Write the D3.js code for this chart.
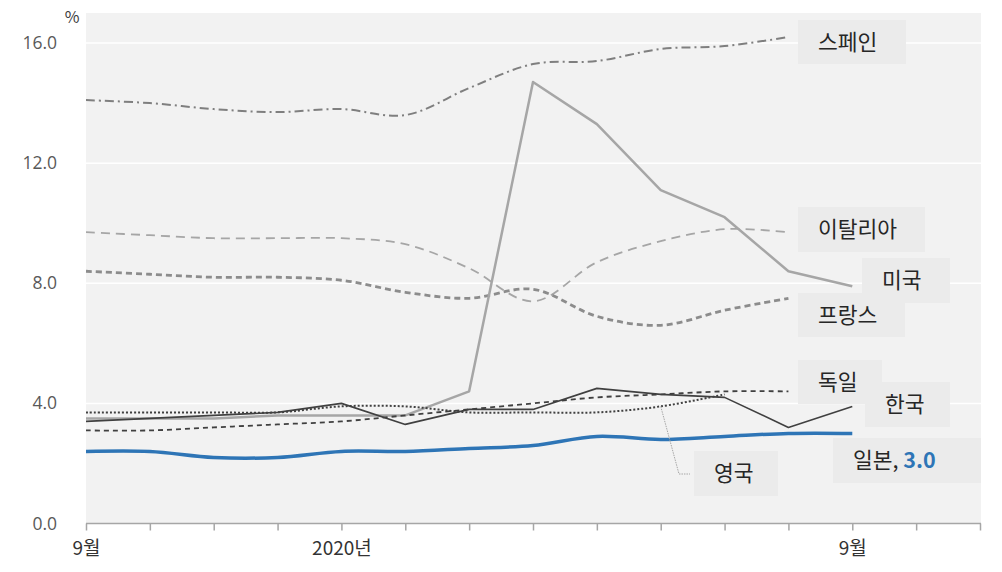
<!DOCTYPE html>
<html>
<head>
<meta charset="utf-8">
<script src="https://cdn.jsdelivr.net/npm/d3@7"></script>
<style>
  html, body { margin: 0; padding: 0; background: #ffffff; }
  svg { display: block; }
  text { font-family: "Noto Sans CJK KR", "Noto Sans", sans-serif; }
</style>
</head>
<body>
<svg id="chart" width="1002" height="572"></svg>
<script>
// Monthly unemployment rate (%), Sep 2019 onward
const months = ["2019-09", "2019-10", "2019-11", "2019-12", "2020-01", "2020-02", "2020-03",
                "2020-04", "2020-05", "2020-06", "2020-07", "2020-08", "2020-09", "2020-10", "2020-11"];
const monthLabels = { "2019-09": "9월", "2020-01": "2020년", "2020-09": "9월" };
const yTicks = [0, 4, 8, 12, 16];

const spain   = [14.1, 14.0, 13.8, 13.7, 13.8, 13.6, 14.5, 15.3, 15.4, 15.8, 15.9, 16.2];
const italy   = [9.7, 9.6, 9.5, 9.5, 9.5, 9.3, 8.5, 7.4, 8.7, 9.4, 9.8, 9.7];
const france  = [8.4, 8.3, 8.2, 8.2, 8.1, 7.7, 7.5, 7.8, 6.9, 6.6, 7.1, 7.5];
const usa     = [3.5, 3.5, 3.5, 3.6, 3.6, 3.6, 4.4, 14.7, 13.3, 11.1, 10.2, 8.4, 7.9];
const germany = [3.1, 3.1, 3.2, 3.3, 3.4, 3.6, 3.8, 4.0, 4.2, 4.3, 4.4, 4.4];
const uk      = [3.7, 3.7, 3.7, 3.7, 3.9, 3.9, 3.7, 3.7, 3.7, 3.9, 4.3];
const korea   = [3.4, 3.5, 3.6, 3.7, 4.0, 3.3, 3.8, 3.8, 4.5, 4.3, 4.2, 3.2, 3.9];
const japan   = [2.4, 2.4, 2.2, 2.2, 2.4, 2.4, 2.5, 2.6, 2.9, 2.8, 2.9, 3.0, 3.0];

const names = { spain: "스페인", italy: "이탈리아", usa: "미국", france: "프랑스",
                germany: "독일", korea: "한국", japan: "일본", uk: "영국" };

const svg = d3.select("#chart");
const plot = { left: 86, right: 981, top: 13, bottom: 523.5 };

const x = d3.scalePoint().domain(months).range([86, 980]);
const y = d3.scaleLinear().domain([0, 17]).range([plot.bottom, plot.top]);

// panel
svg.append("rect")
  .attr("x", plot.left).attr("y", plot.top)
  .attr("width", plot.right - plot.left).attr("height", plot.bottom - plot.top)
  .attr("fill", "#f2f2f2");

// horizontal gridlines
svg.append("g").selectAll("line")
  .data(yTicks.filter(d => d > 0))
  .join("line")
  .attr("x1", plot.left).attr("x2", plot.right)
  .attr("y1", d => y(d)).attr("y2", d => y(d))
  .attr("stroke", "#ffffff").attr("stroke-width", 1.5);

// y axis labels
const yAxis = d3.axisLeft(y).tickValues(yTicks).tickFormat(d3.format(".1f")).tickSize(0).tickPadding(29);
const yg = svg.append("g").attr("transform", `translate(${plot.left},0)`).call(yAxis);
yg.select(".domain").remove();
yg.selectAll("text").attr("font-size", 17.5).attr("fill", "#595959")
  .style("font-family", "'Open Sans', 'Noto Sans', sans-serif");

svg.append("text").attr("x", 72).attr("y", 23).attr("text-anchor", "middle")
  .attr("font-size", 16).attr("fill", "#404040").text("%");

// x axis
const xAxis = d3.axisBottom(x).tickSizeOuter(0).tickSize(7).tickPadding(11)
  .tickFormat(d => monthLabels[d] || "");
const xg = svg.append("g").attr("transform", `translate(0,${plot.bottom})`).call(xAxis);
xg.select(".domain").attr("d", `M${plot.left},0H${plot.right}`).attr("stroke", "#a6a6a6").attr("stroke-width", 1.5);
xg.selectAll(".tick line").attr("stroke", "#a6a6a6").attr("stroke-width", 1.5);
xg.selectAll("text").attr("font-size", 19).attr("fill", "#333333");

// series
const series = [
  { key: "spain",   data: spain,   color: "#7f7f7f", width: 2,   dash: "9,4,2,4", smooth: true },
  { key: "italy",   data: italy,   color: "#a6a6a6", width: 1.8, dash: "9,6",     smooth: true },
  { key: "france",  data: france,  color: "#8c8c8c", width: 2.8, dash: "6,4",     smooth: true },
  { key: "usa",     data: usa,     color: "#a6a6a6", width: 2.5, dash: null,      smooth: false },
  { key: "germany", data: germany, color: "#404040", width: 1.8, dash: "5,4",     smooth: true },
  { key: "uk",      data: uk,      color: "#404040", width: 2,   dash: "2,2",     smooth: true },
  { key: "korea",   data: korea,   color: "#404040", width: 1.6, dash: null,      smooth: false },
  { key: "japan",   data: japan,   color: "#2e75b6", width: 3.5, dash: null,      smooth: true }
];

const lineSmooth = d3.line().x((d, i) => x(months[i])).y(d => y(d)).curve(d3.curveCatmullRom.alpha(0.5));
const lineStraight = d3.line().x((d, i) => x(months[i])).y(d => y(d));

svg.append("g").selectAll("path")
  .data(series)
  .join("path")
  .attr("d", s => (s.smooth ? lineSmooth : lineStraight)(s.data))
  .attr("fill", "none")
  .attr("stroke", s => s.color)
  .attr("stroke-width", s => s.width)
  .attr("stroke-dasharray", s => s.dash)
  .attr("stroke-linejoin", "round");

// leader line for the UK label
const ukIdx = 9;
svg.append("path")
  .attr("d", `M${x(months[ukIdx])},${y(uk[ukIdx])}L679,474L690,474`)
  .attr("fill", "none").attr("stroke", "#a6a6a6").attr("stroke-width", 1)
  .attr("stroke-dasharray", "1.5,1");

// label boxes
const labelBoxes = [
  { key: "spain",   x: 798, y: 20,  w: 108, h: 44 },
  { key: "italy",   x: 798, y: 207, w: 127, h: 45 },
  { key: "france",  x: 798, y: 293, w: 107, h: 44 },
  { key: "usa",     x: 862, y: 258, w: 88,  h: 45 },
  { key: "germany", x: 798, y: 360, w: 84,  h: 44 },
  { key: "korea",   x: 865, y: 382, w: 85,  h: 45 },
  { key: "japan",   x: 833, y: 438, w: 148, h: 45 },
  { key: "uk",      x: 694, y: 451, w: 84,  h: 45 }
];

const lg = svg.append("g").selectAll("g").data(labelBoxes).join("g");
lg.append("rect")
  .attr("x", d => d.x).attr("y", d => d.y).attr("width", d => d.w).attr("height", d => d.h)
  .attr("fill", "#ebebeb");
const lt = lg.append("text")
  .attr("x", d => d.x + 20).attr("y", d => d.y + d.h / 2)
  .attr("dy", "0.35em")
  .attr("font-size", 21.5).attr("fill", "#262626");
lt.append("tspan").text(d => names[d.key]);
lt.filter(d => d.key === "japan").each(function() {
  const t = d3.select(this);
  t.append("tspan").text(", ");
  t.append("tspan").attr("fill", "#2e75b6").attr("font-weight", "bold")
    .text(d3.format(".1f")(japan[japan.length - 1]));
});
</script>
</body>
</html>
